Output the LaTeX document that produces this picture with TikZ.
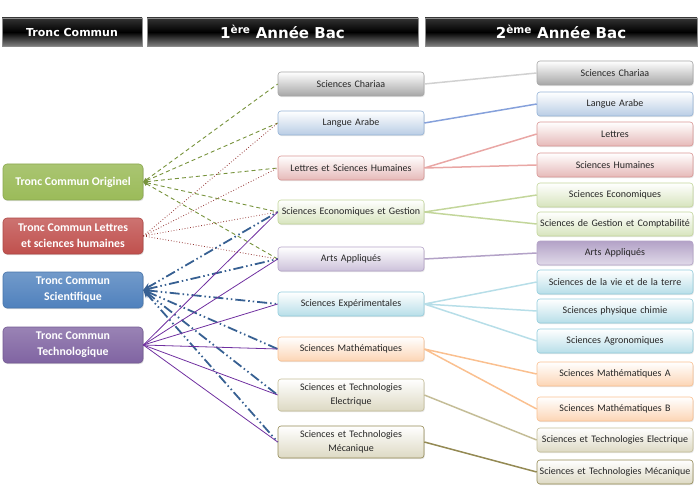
\documentclass[tikz,border=0pt]{standalone}
\usepackage{fontspec}
\setmainfont{Carlito}
\newfontfamily\headfont{DejaVu Sans}
\usetikzlibrary{arrows.meta,shadows}

\definecolor{tcgreen}{HTML}{9BBB59}
\definecolor{tcred}{HTML}{C0504D}
\definecolor{tcblue}{HTML}{4F81BD}
\definecolor{tcpurple}{HTML}{8064A2}
\definecolor{olgreen}{HTML}{77933C}
\definecolor{dkred}{HTML}{953735}
\definecolor{stblue}{HTML}{376092}
\definecolor{vpurple}{HTML}{7030A0}
\definecolor{chaC}{HTML}{A6A6A6}
\definecolor{lanC}{HTML}{B9CDE5}
\definecolor{lanD}{HTML}{95B3D7}
\definecolor{letC}{HTML}{E6B9B8}
\definecolor{letD}{HTML}{D99694}
\definecolor{ecoC}{HTML}{D7E4BD}
\definecolor{ecoD}{HTML}{C3D69B}
\definecolor{artC}{HTML}{CCC1DA}
\definecolor{artD}{HTML}{B3A2C7}
\definecolor{expC}{HTML}{B7DEE8}
\definecolor{expD}{HTML}{93CDDD}
\definecolor{matC}{HTML}{FCD5B5}
\definecolor{matD}{HTML}{FAC090}
\definecolor{tecC}{HTML}{DDD9C3}
\definecolor{tecD}{HTML}{C4BD97}
\definecolor{mecD}{HTML}{948A54}

\tikzstyle{headbox}=[draw=black!45,line width=0.8pt,inner sep=0pt,
                     minimum height=28pt,top color=black!80,
                     bottom color=black!50,middle color=black,
                     text=white,font=\headfont\bfseries\fontsize{15}{17}\selectfont,
                     drop shadow={opacity=0.3,shadow xshift=1pt,shadow yshift=-1pt}]
\tikzstyle{tcbox}=[rounded corners=4pt,line width=0.6pt,inner sep=2pt,
                   minimum width=140pt,minimum height=36pt,align=center,
                   text=white,font=\bfseries\fontsize{11.8}{16}\selectfont,
                   drop shadow={opacity=0.25,shadow xshift=0.8pt,shadow yshift=-1.2pt}]
\tikzstyle{lvlbox}=[rounded corners=3pt,line width=0.6pt,inner sep=1pt,
                    minimum height=24pt,align=center,text=black!85,
                    top color=white,font=\fontsize{10}{14}\selectfont,
                    drop shadow={opacity=0.2,shadow xshift=0.8pt,shadow yshift=-1.2pt}]
\tikzstyle{midbox}=[lvlbox,minimum width=146pt,text width=142pt]
\tikzstyle{finbox}=[lvlbox,minimum width=156pt,text width=154pt]
\tikzstyle{cha}=[draw=chaC,bottom color=chaC]
\tikzstyle{lan}=[draw=lanD,bottom color=lanC]
\tikzstyle{let}=[draw=letD,bottom color=letC]
\tikzstyle{eco}=[draw=ecoD,bottom color=ecoC]
\tikzstyle{art}=[draw=artD,bottom color=artC]
\tikzstyle{exp}=[draw=expD,bottom color=expC]
\tikzstyle{mat}=[draw=matD,bottom color=matC]
\tikzstyle{tec}=[draw=tecD,bottom color=tecC]
\tikzstyle{origline}=[olgreen,line width=0.9pt,dash pattern=on 4pt off 3pt,
                      arrows={Triangle[length=4pt,width=4pt]-}]
\tikzstyle{lettline}=[dkred,line width=0.8pt,dotted]
\tikzstyle{sciline}=[stblue,line width=1.8pt,
                     dash pattern=on 10pt off 3pt on 1.5pt off 3pt on 1.5pt off 3pt,
                     arrows={Stealth[length=8pt,width=7pt,inset=3pt]-}]
\tikzstyle{techline}=[vpurple,line width=0.8pt]
\tikzstyle{nextline}=[line width=1.5pt]

\begin{document}
\begin{tikzpicture}[x=1pt,y=-1pt]
  \useasboundingbox (0,0) rectangle (700,486);
  % headers
  \node (hTC) at (72,32) [headbox,minimum width=140pt,
    font=\headfont\bfseries\fontsize{11}{13}\selectfont] {Tronc Commun};
  \node (h1) at (282.5,32) [headbox,minimum width=271pt] {1\textsuperscript{ère} Année Bac};
  \node (h2) at (561,32) [headbox,minimum width=272pt] {2\textsuperscript{ème} Année Bac};
  % tronc commun
  \node (tcO) at (73,182) [tcbox,draw=tcgreen!90!black,top color=tcgreen!85!white,
    bottom color=tcgreen] {Tronc Commun Originel};
  \node (tcL) at (73,236) [tcbox,draw=tcred!90!black,top color=tcred!80!white,
    bottom color=tcred] {Tronc Commun Lettres\\et sciences humaines};
  \node (tcS) at (73,290) [tcbox,draw=tcblue!90!black,top color=tcblue!80!white,
    bottom color=tcblue] {Tronc Commun\\Scientifique};
  \node (tcT) at (73,345) [tcbox,draw=tcpurple!90!black,top color=tcpurple!80!white,
    bottom color=tcpurple] {Tronc Commun\\Technologique};
  % 1ere annee
  \node (bCha) at (351,84)  [midbox,cha] {Sciences Chariaa};
  \node (bLan) at (351,123) [midbox,lan] {Langue Arabe};
  \node (bLet) at (351,168) [midbox,let] {Lettres et Sciences Humaines};
  \node (bEco) at (351,212) [midbox,eco] {Sciences Economiques et Gestion};
  \node (bArt) at (351,259) [midbox,art] {Arts Appliqués};
  \node (bExp) at (351,304) [midbox,exp] {Sciences Expérimentales};
  \node (bMat) at (351,349) [midbox,mat] {Sciences Mathématiques};
  \node (bEle) at (351,395) [midbox,tec,minimum height=32pt] {Sciences et Technologies\\Electrique};
  \node (bMec) at (351,442) [midbox,tec,minimum height=32pt,draw=mecD] {Sciences et Technologies\\Mécanique};
  % 2eme annee
  \node (aCha) at (615,73)  [finbox,cha] {Sciences Chariaa};
  \node (aLan) at (615,104) [finbox,lan] {Langue Arabe};
  \node (aLet) at (615,134) [finbox,let] {Lettres};
  \node (aHum) at (615,165) [finbox,let] {Sciences Humaines};
  \node (aEco) at (615,195) [finbox,eco] {Sciences Economiques};
  \node (aGes) at (615,224) [finbox,eco] {Sciences de Gestion et Comptabilité};
  \node (aArt) at (615,253) [finbox,art,top color=artD,bottom color=artC!60] {Arts Appliqués};
  \node (aSvt) at (615,282) [finbox,exp] {Sciences de la vie et de la terre};
  \node (aPc)  at (615,311) [finbox,exp] {Sciences physique chimie};
  \node (aAgr) at (615,341) [finbox,exp] {Sciences Agronomiques};
  \node (aMaA) at (615,374) [finbox,mat] {Sciences Mathématiques A};
  \node (aMaB) at (615,409) [finbox,mat] {Sciences Mathématiques B};
  \node (aEle) at (615,440) [finbox,tec] {Sciences et Technologies Electrique};
  \node (aMec) at (615,472) [finbox,tec,draw=mecD] {Sciences et Technologies Mécanique};
  % tronc commun -> 1ere annee
  \foreach \m in {bCha,bLan,bLet,bEco,bArt}
    \draw[origline] (tcO.east) -- (\m.west);
  \foreach \m in {bLan,bLet,bEco,bArt}
    \draw[lettline] (tcL.east) -- (\m.west);
  \foreach \m in {bEco,bArt,bExp,bMat,bEle,bMec}
    \draw[sciline] (tcS.east) -- (\m.west);
  \foreach \m in {bEco,bArt,bExp,bMat,bEle,bMec}
    \draw[techline] (tcT.east) -- (\m.west);
  % 1ere annee -> 2eme annee
  \draw[nextline,black!18] (bCha.east) -- (aCha.west);
  \draw[nextline,lanD!90!blue] (bLan.east) -- (aLan.west);
  \draw[nextline,letC!90!red] (bLet.east) -- (aLet.west) (bLet.east) -- (aHum.west);
  \draw[nextline,ecoD] (bEco.east) -- (aEco.west) (bEco.east) -- (aGes.west);
  \draw[nextline,artD] (bArt.east) -- (aArt.west);
  \draw[nextline,expC] (bExp.east) -- (aSvt.west) (bExp.east) -- (aPc.west)
    (bExp.east) -- (aAgr.west);
  \draw[nextline,matD] (bMat.east) -- (aMaA.west) (bMat.east) -- (aMaB.west);
  \draw[nextline,tecD] (bEle.east) -- (aEle.west);
  \draw[nextline,mecD] (bMec.east) -- (aMec.west);
\end{tikzpicture}
\end{document}
